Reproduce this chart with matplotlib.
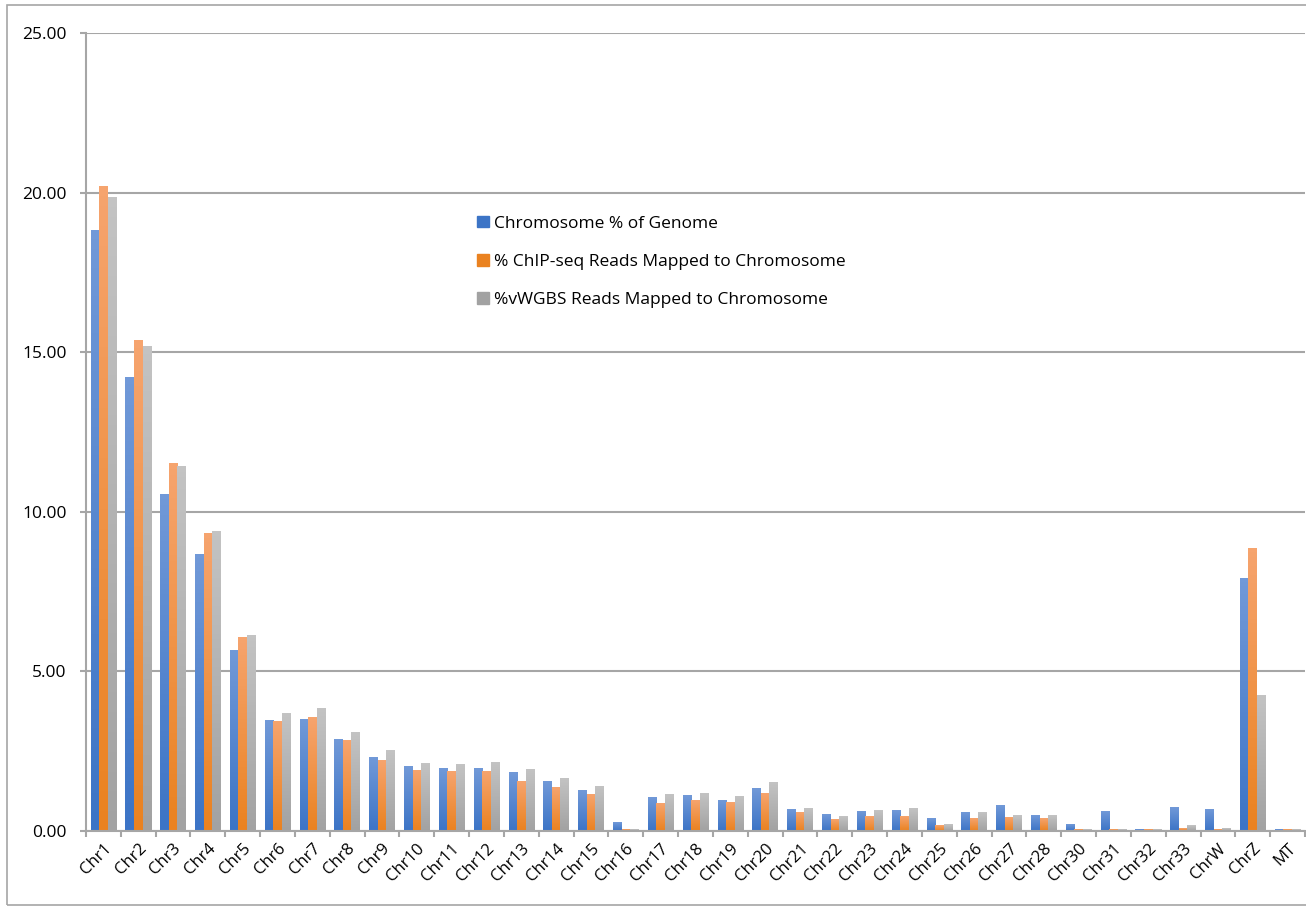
import numpy as np
import matplotlib.pyplot as plt
from matplotlib.colors import LinearSegmentedColormap
from matplotlib.patches import Rectangle

# chromosome names and percentages for the three series
chroms = ["Chr1", "Chr2", "Chr3", "Chr4", "Chr5", "Chr6", "Chr7", "Chr8", "Chr9",
          "Chr10", "Chr11", "Chr12", "Chr13", "Chr14", "Chr15", "Chr16", "Chr17",
          "Chr18", "Chr19", "Chr20", "Chr21", "Chr22", "Chr23", "Chr24", "Chr25",
          "Chr26", "Chr27", "Chr28", "Chr30", "Chr31", "Chr32", "Chr33", "ChrW",
          "ChrZ", "MT"]
genome_pct = [18.80, 14.22, 10.53, 8.66, 5.67, 3.45, 3.48, 2.86, 2.30,
              2.01, 1.95, 1.95, 1.82, 1.54, 1.26, 0.28, 1.04,
              1.10, 0.97, 1.32, 0.66, 0.53, 0.60, 0.63, 0.38,
              0.57, 0.79, 0.50, 0.19, 0.60, 0.06, 0.75, 0.66,
              7.92, 0.06]
chip_pct = [20.18, 15.38, 11.50, 9.32, 6.07, 3.43, 3.55, 2.83, 2.22,
            1.89, 1.86, 1.86, 1.54, 1.35, 1.13, 0.06, 0.85,
            0.94, 0.88, 1.19, 0.57, 0.35, 0.44, 0.44, 0.16,
            0.38, 0.41, 0.38, 0.06, 0.06, 0.06, 0.09, 0.06,
            8.84, 0.06]
wgbs_pct = [19.86, 15.18, 11.43, 9.39, 6.14, 3.68, 3.83, 3.08, 2.52,
            2.11, 2.08, 2.14, 1.92, 1.64, 1.38, 0.06, 1.13,
            1.19, 1.07, 1.51, 0.72, 0.44, 0.63, 0.69, 0.19,
            0.57, 0.50, 0.50, 0.06, 0.06, 0.06, 0.16, 0.09,
            4.25, 0.06]
labels = ["Chromosome % of Genome",
          "% ChIP-seq Reads Mapped to Chromosome",
          "%vWGBS Reads Mapped to Chromosome"]

# (top colour, bottom colour) for the gradient fill of each series
grads = [("#7199d8", "#3c74c6"), ("#f6a46e", "#ea8220"), ("#c3c3c3", "#a2a2a2")]

fig = plt.figure(figsize=(13.06, 9.06), dpi=100)
ax = fig.add_axes([86 / 1306, 1 - 831 / 906, 1219 / 1306, 798 / 906])

x = np.arange(len(chroms))
w = 0.245
series = [genome_pct, chip_pct, wgbs_pct]
handles = []
grad = np.linspace(0, 1, 64).reshape(-1, 1)
for k, vals in enumerate(series):
    top, bot = grads[k]
    cmap = LinearSegmentedColormap.from_list("g%d" % k, [bot, top])
    bars = ax.bar(x + (k - 1) * w, vals, w, color=top, zorder=2, linewidth=0)
    handles.append(Rectangle((0, 0), 1, 1, color=bot))
    for b in bars:
        bx, bw, bh = b.get_x(), b.get_width(), b.get_height()
        ax.imshow(grad, extent=[bx, bx + bw, 0, bh], origin="lower",
                  cmap=cmap, aspect="auto", zorder=2.5)

ax.set_xlim(-0.5, len(chroms) - 0.5)
ax.set_ylim(0, 25)

ax.set_yticks(np.arange(0, 26, 5))
ax.set_yticklabels(["%.2f" % v for v in np.arange(0, 26, 5)], fontsize=12.5,
                   family="Open Sans")
ax.yaxis.grid(True, color="#a6a6a6", linewidth=1.5)
ax.set_axisbelow(True)

ax.set_xticks(x)
ax.set_xticklabels(chroms, rotation=45, ha="right", rotation_mode="anchor",
                   fontsize=12, family="Open Sans")
ax.tick_params(axis="x", length=0, pad=7)
ax.set_xticks(np.arange(-0.5, len(chroms), 1), minor=True)
ax.tick_params(axis="x", which="minor", length=4.5, color="#a6a6a6", width=1.5)
ax.tick_params(axis="y", length=4.5, color="#a6a6a6", width=1.5, pad=9.5)

for s in ["top", "right"]:
    ax.spines[s].set_visible(False)
for s in ["left", "bottom"]:
    ax.spines[s].set_color("#a6a6a6")
    ax.spines[s].set_linewidth(1.5)

ax.legend(handles, labels, loc="center left", bbox_to_anchor=(0.321, 0.713),
          frameon=False, handlelength=0.65, handleheight=0.65,
          handletextpad=0.3, labelspacing=1.28, borderpad=0, borderaxespad=0,
          prop={"family": "Open Sans", "size": 12.5})

# thin grey frame around the whole chart area
fig.patches.append(Rectangle((7 / 1306, 1 / 906), 1310 / 1306, 900 / 906,
                             transform=fig.transFigure, fill=False,
                             edgecolor="#a6a6a6", linewidth=1.2))

fig.savefig("out.png", dpi=100)
